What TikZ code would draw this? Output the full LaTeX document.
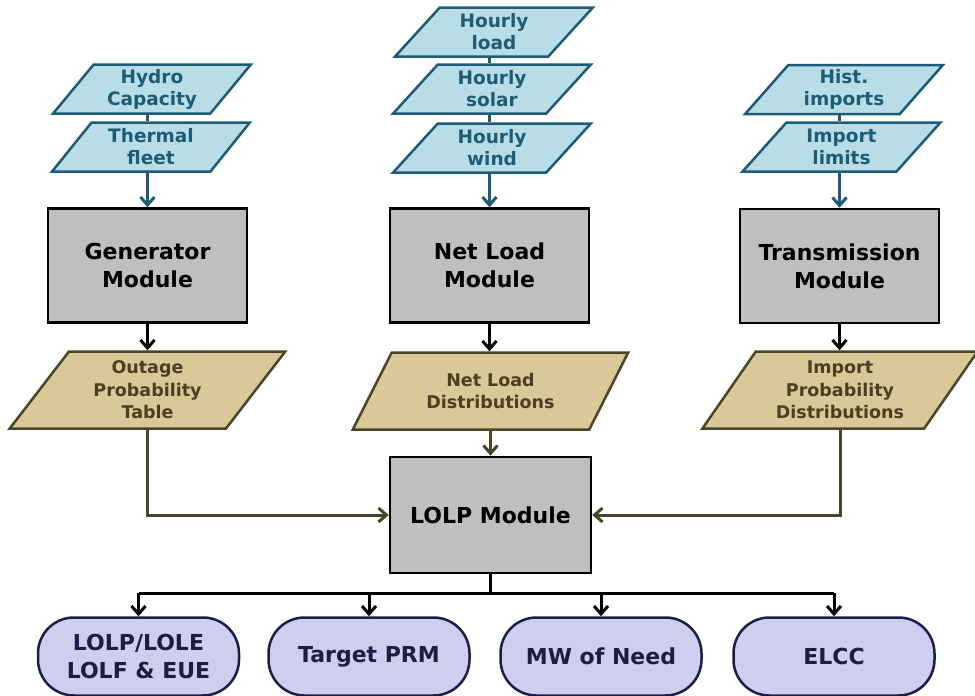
\documentclass[tikz,border=0pt]{standalone}
\usepackage{fontspec}
\setmainfont{DejaVu Sans}
\usetikzlibrary{shapes.geometric,arrows.meta}
\definecolor{cyanfill}{HTML}{B9DDE6}
\definecolor{cyandraw}{HTML}{1E5B74}
\definecolor{tanfill}{HTML}{D9C898}
\definecolor{tandraw}{HTML}{4A4428}
\definecolor{tantext}{HTML}{4A4020}
\definecolor{boxfill}{HTML}{BFBFBF}
\definecolor{outfill}{HTML}{CECEEE}
\definecolor{outdraw}{HTML}{1C1C46}
\tikzset{
  inp/.style={trapezium, trapezium left angle=52, trapezium right angle=128,
    trapezium stretches=true, minimum width=198pt, minimum height=49pt, inner sep=0pt,
    fill=cyanfill, draw=cyandraw, line width=2.5pt, text=cyandraw,
    font=\bfseries\fontsize{18.5}{22}\selectfont, align=center},
  res/.style={trapezium, trapezium left angle=55, trapezium right angle=125,
    trapezium stretches=true, minimum width=276pt, minimum height=77pt, inner sep=0pt,
    fill=tanfill, draw=tandraw, line width=2.5pt, text=tantext,
    font=\bfseries\fontsize{17.5}{22.5}\selectfont, align=center},
  modbox/.style={rectangle, draw=black, fill=boxfill, line width=2.5pt,
    minimum width=199pt, minimum height=114pt, inner sep=0pt,
    font=\bfseries\fontsize{22}{28}\selectfont, align=center},
  outp/.style={rectangle, rounded corners=36pt, draw=outdraw, fill=outfill, line width=2.5pt,
    minimum width=201pt, minimum height=78pt, inner sep=0pt, text=outdraw,
    font=\bfseries\fontsize{22}{28}\selectfont, align=center},
  cyanarr/.style={draw=cyandraw, line width=3pt, -{Straight Barb[length=8pt,width=14pt,line width=3pt]}},
  cyanline/.style={draw=cyandraw, line width=3pt},
  blkarr/.style={draw=black, line width=3pt, -{Straight Barb[length=8pt,width=14pt,line width=3pt]}},
  blkline/.style={draw=black, line width=3pt},
  olvarr/.style={draw=tandraw, line width=3pt, -{Straight Barb[length=8pt,width=14pt,line width=3pt]}},
}
\begin{document}
\begin{tikzpicture}[x=1pt,y=-1pt]
\useasboundingbox (0,0) rectangle (975,696);
% inputs
\node[inp] (hydro) at (152,89) {Hydro\\Capacity};
\node[inp] (thermal) at (151,147) {Thermal\\fleet};
\node[inp] (load) at (494,32) {Hourly\\load};
\node[inp] (solar) at (492,89) {Hourly\\solar};
\node[inp] (wind) at (492,148) {Hourly\\wind};
\node[inp] (hist) at (844,89.5) {Hist.\\imports};
\node[inp] (limits) at (841.5,147) {Import\\limits};
% modules
\node[modbox] (gen) at (147.5,265.5) {Generator\\Module};
\node[modbox] (net) at (489.5,265.5) {Net Load\\Module};
\node[modbox] (trans) at (839.5,266) {Transmission\\Module};
% results
\node[res] (outage) at (147.5,390) {Outage\\Probability\\Table};
\node[res] (netdist) at (490.5,391) {Net Load\\Distributions};
\node[res] (import) at (840,390) {Import\\Probability\\Distributions};
% LOLP
\node[modbox, minimum width=201pt, minimum height=116pt] (lolp) at (490.5,515) {LOLP Module};
% outputs
\node[outp] (o1) at (138.5,656.5) {LOLP/LOLE\\LOLF \& EUE};
\node[outp] (o2) at (369,656.5) {Target PRM};
\node[outp] (o3) at (601,656.5) {MW of Need};
\node[outp] (o4) at (834,656.5) {ELCC};
\coordinate (bus) at (490.5,593);
% connectors
\draw[cyanline] (hydro.south -| gen.north) -- (thermal.north -| gen.north);
\draw[cyanarr] (thermal.south -| gen.north) -- (gen.north);
\draw[cyanline] (load.south -| net.north) -- (solar.north -| net.north);
\draw[cyanline] (solar.south -| net.north) -- (wind.north -| net.north);
\draw[cyanarr] (wind.south -| net.north) -- (net.north);
\draw[cyanline] (hist.south -| trans.north) -- (limits.north -| trans.north);
\draw[cyanarr] (limits.south -| trans.north) -- (trans.north);
\draw[blkarr] (gen.south) -- (outage.north -| gen.south);
\draw[blkarr] (net.south) -- (netdist.north -| net.south);
\draw[blkarr] (trans.south) -- (import.north -| trans.south);
\draw[olvarr] (netdist.south -| lolp.north) -- (lolp.north);
\draw[olvarr] (outage.south) |- (lolp.west);
\draw[olvarr] (import.south) |- (lolp.east);
\draw[blkline] (lolp.south) -- (bus);
\draw[blkline] (o1.north |- bus) -- (o4.north |- bus);
\draw[blkarr] (o1.north |- bus) -- (o1.north);
\draw[blkarr] (o2.north |- bus) -- (o2.north);
\draw[blkarr] (o3.north |- bus) -- (o3.north);
\draw[blkarr] (o4.north |- bus) -- (o4.north);
\end{tikzpicture}
\end{document}
